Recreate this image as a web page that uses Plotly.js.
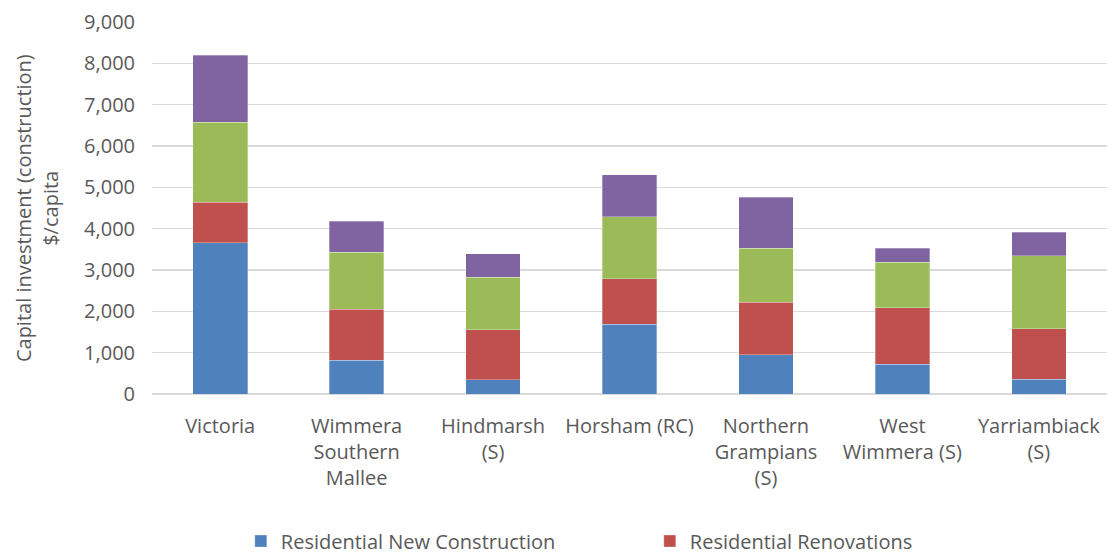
<!DOCTYPE html>
<html>
<head>
<meta charset="utf-8">
<script src="https://cdn.plot.ly/plotly-3.0.1.min.js"></script>
<style>html,body{margin:0;padding:0;background:#fff;}#chart{width:1110px;height:556px;}</style>
</head>
<body>
<div id="chart"></div>
<script>
const categories = ["Victoria", "Wimmera<br>Southern<br>Mallee", "Hindmarsh<br>(S)", "Horsham (RC)", "Northern<br>Grampians<br>(S)", "West<br>Wimmera (S)", "Yarriambiack<br>(S)"];
const resNew = [3660, 815, 340, 1690, 950, 715, 355];
const resReno = [985, 1230, 1215, 1095, 1265, 1370, 1220];
const nonResNew = [1935, 1385, 1265, 1505, 1310, 1105, 1775];
const nonResReno = [1620, 750, 570, 1020, 1240, 340, 565];
const seriesNames = ["Residential New Construction", "Residential Renovations", "Non-Residential New Construction", "Non-Residential Renovations"];
const colors = ["#4f81bd", "#c0504d", "#9bbb59", "#8064a2"];
const values = [resNew, resReno, nonResNew, nonResReno];
const yTitleLines = ["Capital investment (construction)", "$/capita"];

const traces = values.map((v, i) => ({
  type: 'bar',
  x: categories,
  y: v,
  name: seriesNames[i],
  marker: {color: colors[i], line: {color: 'rgba(255,255,255,0.6)', width: 0.5}},
  showlegend: i < 2,
  hoverinfo: 'y+name'
}));

const layout = {
  width: 1110, height: 556,
  barmode: 'stack',
  bargap: 0.6,
  margin: {l: 152, r: 3, t: 22, b: 162},
  paper_bgcolor: '#fff', plot_bgcolor: '#fff',
  font: {family: 'Open Sans, sans-serif', size: 20, color: '#595959'},
  xaxis: {
    tickfont: {size: 20, color: '#595959'},
    showline: false, ticks: '', showgrid: false, zeroline: false,
    tickangle: 0, automargin: false, ticklabelstandoff: 18
  },
  yaxis: {
    range: [0, 9000], dtick: 1000, tickformat: ',',
    showgrid: true, gridcolor: '#d9d9d9', gridwidth: 1.5,
    zeroline: true, zerolinecolor: '#d9d9d9', zerolinewidth: 1.5,
    showline: false, ticks: '', ticklabelstandoff: 16,
    tickfont: {size: 20, color: '#595959'},
    automargin: false
  },
  annotations: [
    {text: yTitleLines[0], xref: 'paper', yref: 'paper', x: -0.135, y: 0.5, xanchor: 'center', yanchor: 'middle', textangle: -90, showarrow: false, font: {size: 20, color: '#595959'}},
    {text: yTitleLines[1], xref: 'paper', yref: 'paper', x: -0.107, y: 0.5, xanchor: 'center', yanchor: 'middle', textangle: -90, showarrow: false, font: {size: 20, color: '#595959'}}
  ],
  legend: {
    orientation: 'h', x: 0.093, xanchor: 'left', yref: 'container', y: 0.062, yanchor: 'top',
    font: {size: 20, color: '#595959'}, entrywidth: 364, itemwidth: 20,
    traceorder: 'normal'
  },
  showlegend: true
};

Plotly.newPlot('chart', traces, layout, {displayModeBar: false, staticPlot: true});
</script>
</body>
</html>
